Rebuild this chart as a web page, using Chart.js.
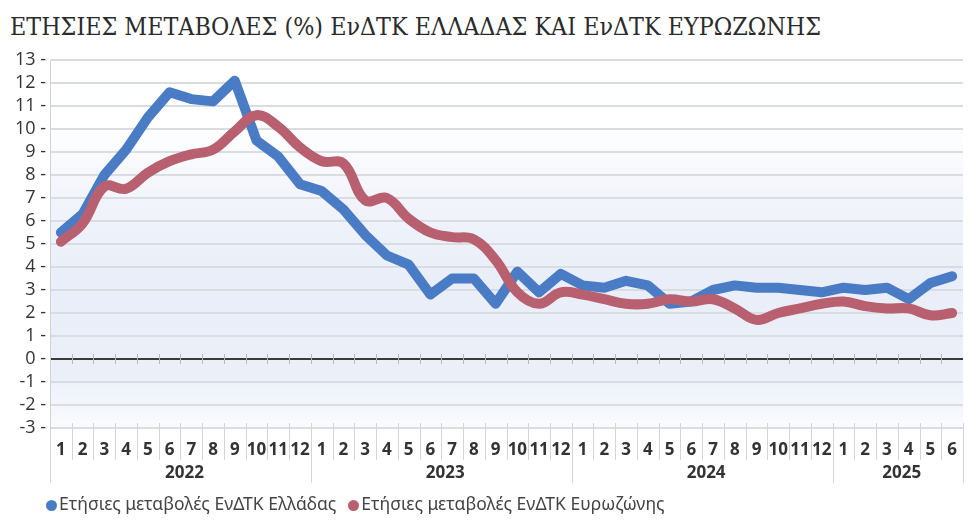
<!DOCTYPE html>
<html>
<head>
    <meta charset="utf-8">
    <title>ΕνΔΤΚ Ελλάδας και Ευρωζώνης</title>
    <script src="https://cdn.jsdelivr.net/npm/chart.js"></script>
    <style>
        body { margin: 0; background: #fff; }
        #wrap { position: relative; width: 980px; height: 530px; }
        #cpi { position: absolute; left: 0; top: 0; }
        #title {
            position: absolute; left: 10px; top: 12px; line-height: 30px;
            font-family: 'DejaVu Serif Condensed', 'DejaVu Serif', serif;
            font-size: 24.8px; color: #2b2b2b; white-space: nowrap;
        }
        #legend {
            position: absolute; left: 46px; top: 491px;
            font-family: 'Noto Sans', 'Open Sans', sans-serif; font-size: 17.5px; color: #444;
            white-space: nowrap;
        }
        #legend span.item { margin-right: 12px; }
        #legend span.dot {
            display: inline-block; width: 11px; height: 11px; border-radius: 50%;
            margin-right: 2px; vertical-align: -1px;
        }
    </style>
</head>
<body>
<div id="wrap">
    <div id="title">ΕΤΗΣΙΕΣ ΜΕΤΑΒΟΛΕΣ (%) ΕνΔΤΚ ΕΛΛΑΔΑΣ ΚΑΙ ΕνΔΤΚ ΕΥΡΩΖΩΝΗΣ</div>
    <canvas id="cpi" width="980" height="530"></canvas>
    <div id="legend"></div>
</div>
<script>
    // month numbers, Jan 2022 - Jun 2025
    var monthLabels = ['1','2','3','4','5','6','7','8','9','10','11','12',
                       '1','2','3','4','5','6','7','8','9','10','11','12',
                       '1','2','3','4','5','6','7','8','9','10','11','12',
                       '1','2','3','4','5','6'];
    var years = ['2022', '2023', '2024', '2025'];
    var monthsInYear = [12, 12, 12, 6];

    var greece = [5.5, 6.3, 8.0, 9.1, 10.5, 11.6, 11.3, 11.2, 12.1, 9.5, 8.8, 7.6,
                  7.3, 6.5, 5.4, 4.5, 4.1, 2.8, 3.5, 3.5, 2.4, 3.8, 2.9, 3.7,
                  3.2, 3.1, 3.4, 3.2, 2.4, 2.5, 3.0, 3.2, 3.1, 3.1, 3.0, 2.9,
                  3.1, 3.0, 3.1, 2.6, 3.3, 3.6];
    var eurozone = [5.1, 5.9, 7.5, 7.4, 8.1, 8.6, 8.9, 9.1, 9.9, 10.6, 10.1, 9.2,
                    8.6, 8.5, 6.9, 7.0, 6.1, 5.5, 5.3, 5.2, 4.3, 2.9, 2.4, 2.9,
                    2.8, 2.6, 2.4, 2.4, 2.6, 2.5, 2.6, 2.2, 1.7, 2.0, 2.2, 2.4,
                    2.5, 2.3, 2.2, 2.2, 1.9, 2.0];

    var seriesNames = ['Ετήσιες μεταβολές ΕνΔΤΚ Ελλάδας', 'Ετήσιες μεταβολές ΕνΔΤΚ Ευρωζώνης'];
    var seriesColors = ['#4a7cc6', '#b8606f'];

    var sans = "'Open Sans', 'Noto Sans', sans-serif";

    // legend as html
    var legendHtml = '';
    seriesNames.forEach(function(name, i) {
        legendHtml += '<span class="item"><span class="dot" style="background:' + seriesColors[i] + '"></span>' + name + '</span>';
    });
    document.getElementById('legend').innerHTML = legendHtml;

    // background band + separators under the axis
    var decorPlugin = {
        id: 'decor',
        beforeDraw: function(chart) {
            var ctx = chart.ctx, a = chart.chartArea;
            var g = ctx.createLinearGradient(0, a.top, 0, a.bottom);
            g.addColorStop(0, '#ffffff');
            g.addColorStop(0.18, '#ffffff');
            g.addColorStop(0.4, '#f0f3fa');
            g.addColorStop(0.6, '#e9eef8');
            g.addColorStop(0.85, '#eaeff8');
            g.addColorStop(1, '#fafbfe');
            ctx.save();
            ctx.fillStyle = g;
            ctx.fillRect(a.left, a.top, a.right - a.left, a.bottom - a.top);
            ctx.restore();
        },
        beforeDatasetsDraw: function(chart) {
            var ctx = chart.ctx, a = chart.chartArea;
            var x = chart.scales.x, y = chart.scales.y;
            var n = monthLabels.length;
            var colW = (a.right - a.left) / n;
            var y0 = y.getPixelForValue(0);
            ctx.save();
            ctx.lineWidth = 1;
            // small ticks on the zero line
            ctx.strokeStyle = '#b5b8bd';
            for (var i = 1; i < n; i++) {
                var bx = Math.round(a.left + i * colW) + 0.5;
                ctx.beginPath();
                ctx.moveTo(bx, y0 - 5);
                ctx.lineTo(bx, y0 + 5);
                ctx.stroke();
            }
            // separators below the plot
            var yearStarts = [0];
            var acc = 0;
            monthsInYear.forEach(function(m) { acc += m; yearStarts.push(acc); });
            ctx.strokeStyle = '#d3d5d8';
            for (var j = 0; j <= n; j++) {
                var sx = Math.round(a.left + j * colW) + 0.5;
                var long = yearStarts.indexOf(j) >= 0;
                ctx.beginPath();
                ctx.moveTo(sx, a.bottom - 5);
                ctx.lineTo(sx, a.bottom + (long ? 55 : 32));
                ctx.stroke();
            }
            // year labels
            ctx.fillStyle = '#333';
            ctx.font = 'bold 17px ' + sans;
            ctx.textAlign = 'center';
            ctx.textBaseline = 'middle';
            years.forEach(function(yr, k) {
                var first = yearStarts[k], last = yearStarts[k + 1] - 1;
                var cx = (x.getPixelForValue(first) + x.getPixelForValue(last)) / 2 + 4;
                ctx.fillText(yr, cx, a.bottom + 45);
            });
            ctx.restore();
        }
    };

    var ctx = document.getElementById('cpi').getContext('2d');
    new Chart(ctx, {
        type: 'line',
        data: {
            labels: monthLabels,
            datasets: [{
                label: seriesNames[0],
                data: greece,
                borderColor: seriesColors[0],
                borderWidth: 10,
                tension: 0,
                pointRadius: 0,
                borderCapStyle: 'round',
                borderJoinStyle: 'round',
                order: 1
            }, {
                label: seriesNames[1],
                data: eurozone,
                borderColor: seriesColors[1],
                borderWidth: 10,
                tension: 0.4,
                pointRadius: 0,
                borderCapStyle: 'round',
                borderJoinStyle: 'round',
                order: 0
            }]
        },
        options: {
            responsive: false,
            animation: false,
            devicePixelRatio: 1,
            layout: { padding: { top: 60, right: 17, bottom: 44, left: 0 } },
            plugins: {
                legend: { display: false },
                tooltip: { enabled: false }
            },
            scales: {
                x: {
                    offset: true,
                    grid: { display: false, drawTicks: false },
                    border: { display: false },
                    ticks: {
                        padding: 12, autoSkip: false, maxRotation: 0,
                        color: '#333', font: { family: sans, size: 17, weight: 'bold' }
                    },
                    afterFit: function(s) { s.height = 58; }
                },
                y: {
                    min: -3, max: 13,
                    ticks: {
                        stepSize: 1, padding: 4, autoSkip: false, color: '#333',
                        font: { family: sans, size: 18 },
                        callback: function(v) { return v + ' -'; }
                    },
                    grid: {
                        drawTicks: false,
                        lineWidth: 2,
                        color: function(c) { return c.tick && c.tick.value === 0 ? '#3a3a3a' : '#d9dce1'; }
                    },
                    border: { display: true, color: '#cfd2d6', width: 1 },
                    afterFit: function(s) { s.width = 50; }
                }
            }
        },
        plugins: [decorPlugin]
    });
</script>
</body>
</html>
